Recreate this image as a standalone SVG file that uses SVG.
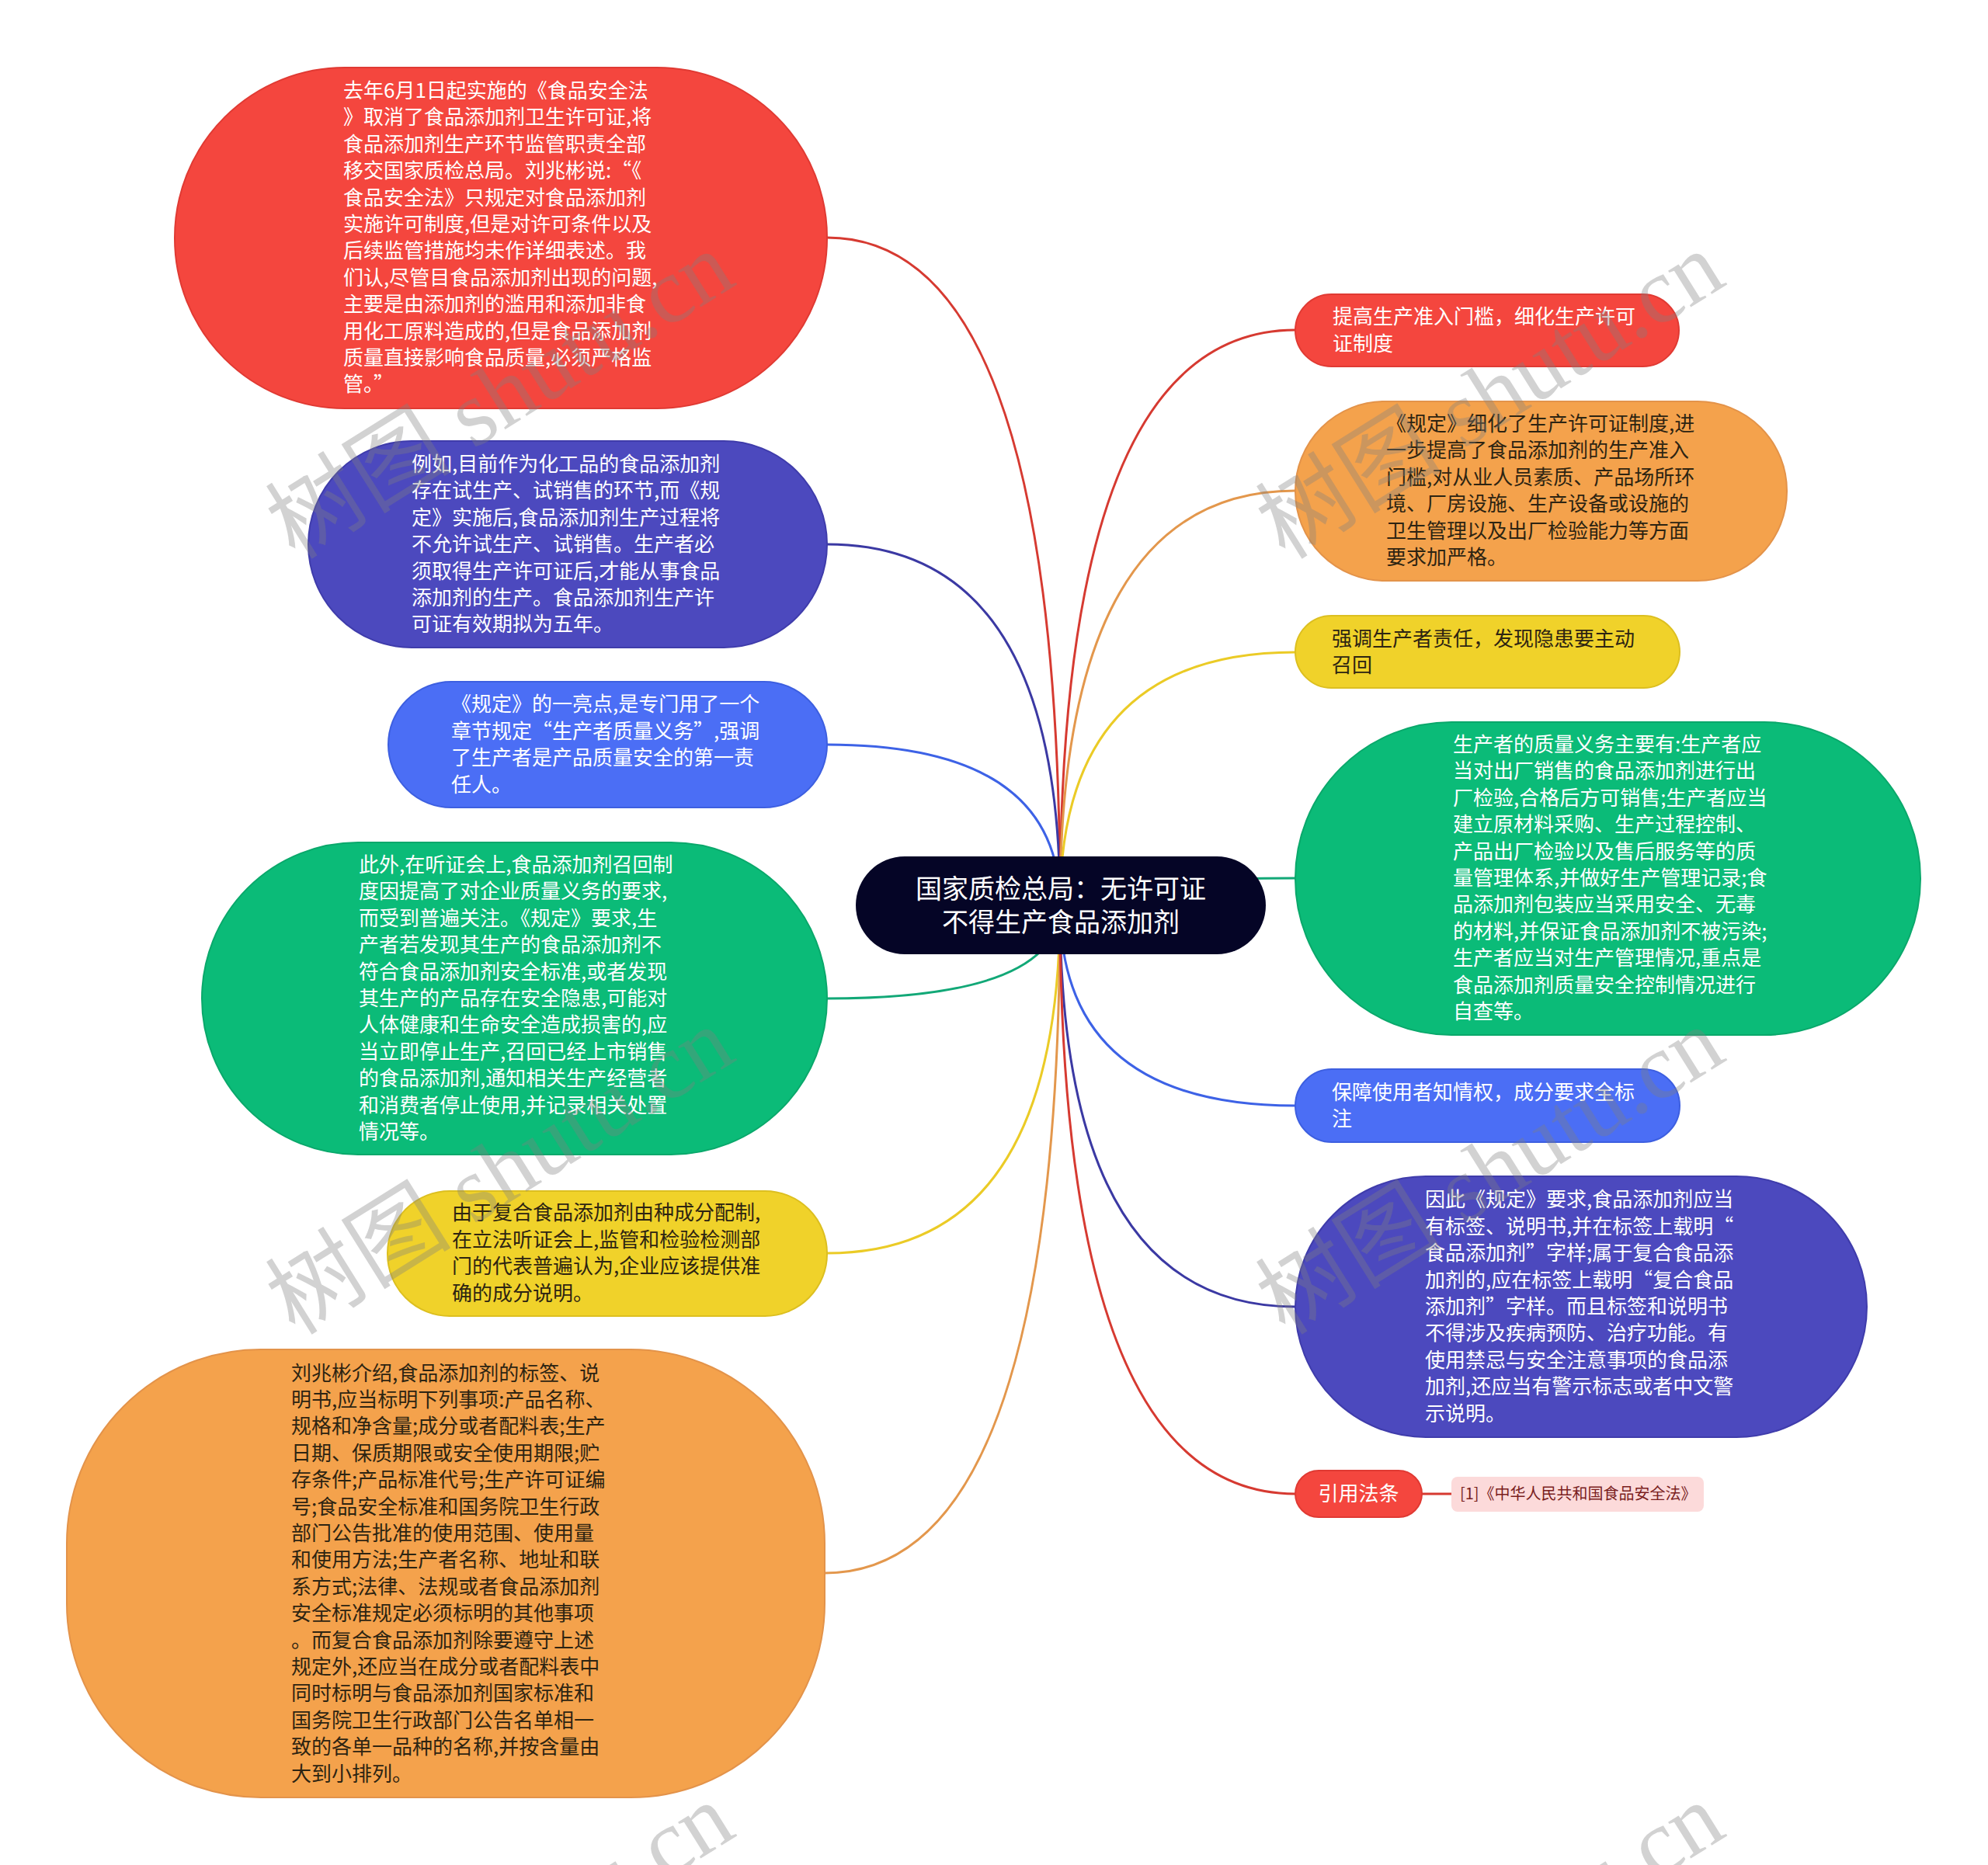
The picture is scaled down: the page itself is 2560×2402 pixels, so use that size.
<svg xmlns="http://www.w3.org/2000/svg" width="2560" height="2402" viewBox="0 0 2560 2402">
<style>
.t{font-family:"Noto Sans CJK SC","Noto Sans",sans-serif;font-size:26px}
.w{fill:#ffffff}
.d{fill:#2d2412}
.c{fill:none;stroke-width:3}
.wm{font-family:"Liberation Serif","Noto Sans CJK SC",serif;font-size:120px;fill:#808080;opacity:0.35}
</style>
<rect x="0" y="0" width="2560" height="2402" fill="#ffffff"/>
<g id="connectors">
<path class="c" stroke="#d63a31" d="M1365,1166 Q1365,306 1065,306"/>
<path class="c" stroke="#3b39a3" d="M1365,1166 Q1365,701 1065,701"/>
<path class="c" stroke="#3d62e6" d="M1365,1166 Q1365,959 1065,959"/>
<path class="c" stroke="#12a877" d="M1365,1166 Q1365,1286 1065,1286"/>
<path class="c" stroke="#ebcb26" d="M1365,1166 Q1365,1614 1065,1614"/>
<path class="c" stroke="#e3974c" d="M1365,1166 Q1365,2026 1062,2026"/>
<path class="c" stroke="#d63a31" d="M1365,1166 Q1365,425 1668,425"/>
<path class="c" stroke="#e3974c" d="M1365,1166 Q1365,632 1668,632"/>
<path class="c" stroke="#ebcb26" d="M1365,1166 Q1365,840 1668,840"/>
<path class="c" stroke="#12a877" d="M1365,1166 Q1365,1131 1668,1131"/>
<path class="c" stroke="#3d62e6" d="M1365,1166 Q1365,1424 1668,1424"/>
<path class="c" stroke="#3b39a3" d="M1365,1166 Q1365,1683 1668,1683"/>
<path class="c" stroke="#d63a31" d="M1365,1166 Q1365,1924 1668,1924"/>
<path class="c" stroke="#d63a31" d="M1831,1924 L1869,1924"/>
</g>
<g id="center">
<rect x="1102" y="1103" width="528" height="126" rx="63" fill="#050526"/>
<text class="t w" style="font-size:34px" text-anchor="middle"><tspan x="1366" y="1157">国家质检总局：无许可证</tspan><tspan x="1366" y="1200">不得生产食品添加剂</tspan></text>
</g>
<g id="L1">
<rect x="225" y="87" width="840" height="439" rx="219" fill="#f4463e" stroke="#e03a33" stroke-width="2"/>
<text class="t w"><tspan x="442" y="126">去年6月1日起实施的《食品安全法</tspan><tspan x="442" y="160.4">》取消了食品添加剂卫生许可证,将</tspan><tspan x="442" y="194.8">食品添加剂生产环节监管职责全部</tspan><tspan x="442" y="229.2">移交国家质检总局。刘兆彬说:“《</tspan><tspan x="442" y="263.6">食品安全法》只规定对食品添加剂</tspan><tspan x="442" y="298">实施许可制度,但是对许可条件以及</tspan><tspan x="442" y="332.4">后续监管措施均未作详细表述。我</tspan><tspan x="442" y="366.8">们认,尽管目食品添加剂出现的问题,</tspan><tspan x="442" y="401.2">主要是由添加剂的滥用和添加非食</tspan><tspan x="442" y="435.6">用化工原料造成的,但是食品添加剂</tspan><tspan x="442" y="470">质量直接影响食品质量,必须严格监</tspan><tspan x="442" y="504.4">管。”</tspan></text>
</g>
<g id="L2">
<rect x="397" y="568" width="668" height="266" rx="133" fill="#4c49be" stroke="#3f3cab" stroke-width="2"/>
<text class="t w"><tspan x="530" y="607">例如,目前作为化工品的食品添加剂</tspan><tspan x="530" y="641.4">存在试生产、试销售的环节,而《规</tspan><tspan x="530" y="675.8">定》实施后,食品添加剂生产过程将</tspan><tspan x="530" y="710.2">不允许试生产、试销售。生产者必</tspan><tspan x="530" y="744.6">须取得生产许可证后,才能从事食品</tspan><tspan x="530" y="779">添加剂的生产。食品添加剂生产许</tspan><tspan x="530" y="813.4">可证有效期拟为五年。</tspan></text>
</g>
<g id="L3">
<rect x="500" y="878" width="565" height="162" rx="81" fill="#4b6ef5" stroke="#3d5fe0" stroke-width="2"/>
<text class="t w"><tspan x="581" y="916.4">《规定》的一亮点,是专门用了一个</tspan><tspan x="581" y="950.8">章节规定“生产者质量义务”,强调</tspan><tspan x="581" y="985.2">了生产者是产品质量安全的第一责</tspan><tspan x="581" y="1019.6">任人。</tspan></text>
</g>
<g id="L4">
<rect x="260" y="1085" width="805" height="402" rx="201" fill="#0bbb78" stroke="#0aa86b" stroke-width="2"/>
<text class="t w"><tspan x="462" y="1123">此外,在听证会上,食品添加剂召回制</tspan><tspan x="462" y="1157.4">度因提高了对企业质量义务的要求,</tspan><tspan x="462" y="1191.8">而受到普遍关注。《规定》要求,生</tspan><tspan x="462" y="1226.2">产者若发现其生产的食品添加剂不</tspan><tspan x="462" y="1260.6">符合食品添加剂安全标准,或者发现</tspan><tspan x="462" y="1295">其生产的产品存在安全隐患,可能对</tspan><tspan x="462" y="1329.4">人体健康和生命安全造成损害的,应</tspan><tspan x="462" y="1363.8">当立即停止生产,召回已经上市销售</tspan><tspan x="462" y="1398.2">的食品添加剂,通知相关生产经营者</tspan><tspan x="462" y="1432.6">和消费者停止使用,并记录相关处置</tspan><tspan x="462" y="1467">情况等。</tspan></text>
</g>
<g id="L5">
<rect x="499" y="1534" width="566" height="161" rx="80" fill="#f0d22a" stroke="#dcbf20" stroke-width="2"/>
<text class="t d"><tspan x="582" y="1571.4">由于复合食品添加剂由种成分配制,</tspan><tspan x="582" y="1605.8">在立法听证会上,监管和检验检测部</tspan><tspan x="582" y="1640.2">门的代表普遍认为,企业应该提供准</tspan><tspan x="582" y="1674.6">确的成分说明。</tspan></text>
</g>
<g id="L6">
<rect x="86" y="1738" width="976" height="577" rx="250" fill="#f4a24c" stroke="#e3934a" stroke-width="2"/>
<text class="t d"><tspan x="375" y="1777.5">刘兆彬介绍,食品添加剂的标签、说</tspan><tspan x="375" y="1811.9">明书,应当标明下列事项:产品名称、</tspan><tspan x="375" y="1846.3">规格和净含量;成分或者配料表;生产</tspan><tspan x="375" y="1880.7">日期、保质期限或安全使用期限;贮</tspan><tspan x="375" y="1915.1">存条件;产品标准代号;生产许可证编</tspan><tspan x="375" y="1949.5">号;食品安全标准和国务院卫生行政</tspan><tspan x="375" y="1983.9">部门公告批准的使用范围、使用量</tspan><tspan x="375" y="2018.3">和使用方法;生产者名称、地址和联</tspan><tspan x="375" y="2052.7">系方式;法律、法规或者食品添加剂</tspan><tspan x="375" y="2087.1">安全标准规定必须标明的其他事项</tspan><tspan x="375" y="2121.5">。而复合食品添加剂除要遵守上述</tspan><tspan x="375" y="2155.9">规定外,还应当在成分或者配料表中</tspan><tspan x="375" y="2190.3">同时标明与食品添加剂国家标准和</tspan><tspan x="375" y="2224.7">国务院卫生行政部门公告名单相一</tspan><tspan x="375" y="2259.1">致的各单一品种的名称,并按含量由</tspan><tspan x="375" y="2293.5">大到小排列。</tspan></text>
</g>
<g id="R1">
<rect x="1668" y="379" width="494" height="93" rx="46.5" fill="#f4463e" stroke="#e03a33" stroke-width="2"/>
<text class="t w"><tspan x="1716" y="417.3">提高生产准入门槛，细化生产许可</tspan><tspan x="1716" y="451.7">证制度</tspan></text>
</g>
<g id="R2">
<rect x="1668" y="517" width="633" height="231" rx="115" fill="#f4a24c" stroke="#e3934a" stroke-width="2"/>
<text class="t d"><tspan x="1785" y="555">《规定》细化了生产许可证制度,进</tspan><tspan x="1785" y="589.4">一步提高了食品添加剂的生产准入</tspan><tspan x="1785" y="623.8">门槛,对从业人员素质、产品场所环</tspan><tspan x="1785" y="658.2">境、厂房设施、生产设备或设施的</tspan><tspan x="1785" y="692.6">卫生管理以及出厂检验能力等方面</tspan><tspan x="1785" y="727">要求加严格。</tspan></text>
</g>
<g id="R3">
<rect x="1668" y="793" width="495" height="93" rx="46.5" fill="#f0d22a" stroke="#dcbf20" stroke-width="2"/>
<text class="t d"><tspan x="1715" y="831.8">强调生产者责任，发现隐患要主动</tspan><tspan x="1715" y="866.2">召回</tspan></text>
</g>
<g id="R4">
<rect x="1668" y="930" width="805" height="403" rx="201" fill="#0bbb78" stroke="#0aa86b" stroke-width="2"/>
<text class="t w"><tspan x="1871" y="968">生产者的质量义务主要有:生产者应</tspan><tspan x="1871" y="1002.4">当对出厂销售的食品添加剂进行出</tspan><tspan x="1871" y="1036.8">厂检验,合格后方可销售;生产者应当</tspan><tspan x="1871" y="1071.2">建立原材料采购、生产过程控制、</tspan><tspan x="1871" y="1105.6">产品出厂检验以及售后服务等的质</tspan><tspan x="1871" y="1140">量管理体系,并做好生产管理记录;食</tspan><tspan x="1871" y="1174.4">品添加剂包装应当采用安全、无毒</tspan><tspan x="1871" y="1208.8">的材料,并保证食品添加剂不被污染;</tspan><tspan x="1871" y="1243.2">生产者应当对生产管理情况,重点是</tspan><tspan x="1871" y="1277.6">食品添加剂质量安全控制情况进行</tspan><tspan x="1871" y="1312">自查等。</tspan></text>
</g>
<g id="R5">
<rect x="1668" y="1377" width="495" height="94" rx="47" fill="#4b6ef5" stroke="#3d5fe0" stroke-width="2"/>
<text class="t w"><tspan x="1715" y="1415.8">保障使用者知情权，成分要求全标</tspan><tspan x="1715" y="1450.2">注</tspan></text>
</g>
<g id="R6">
<rect x="1668" y="1515" width="736" height="336" rx="168" fill="#4c49be" stroke="#3f3cab" stroke-width="2"/>
<text class="t w"><tspan x="1835" y="1554.4">因此《规定》要求,食品添加剂应当</tspan><tspan x="1835" y="1588.8">有标签、说明书,并在标签上载明“</tspan><tspan x="1835" y="1623.2">食品添加剂”字样;属于复合食品添</tspan><tspan x="1835" y="1657.6">加剂的,应在标签上载明“复合食品</tspan><tspan x="1835" y="1692">添加剂”字样。而且标签和说明书</tspan><tspan x="1835" y="1726.4">不得涉及疾病预防、治疗功能。有</tspan><tspan x="1835" y="1760.8">使用禁忌与安全注意事项的食品添</tspan><tspan x="1835" y="1795.2">加剂,还应当有警示标志或者中文警</tspan><tspan x="1835" y="1829.6">示说明。</tspan></text>
</g>
<g id="R7">
<rect x="1668" y="1894" width="163" height="60" rx="30" fill="#f4463e" stroke="#e03a33" stroke-width="2"/>
<text class="t w" text-anchor="middle" x="1749.5" y="1933">引用法条</text>
</g>
<g id="R7-label">
<rect x="1869" y="1902" width="325" height="45" rx="8" fill="#fcdada"/>
<text class="t" style="font-size:20px;fill:#7a1e1e" x="1880" y="1931">[1]《中华人民共和国食品安全法》</text>
</g>
<g id="watermark">
<text class="wm" transform="translate(380,722) rotate(-32)">树图 shutu.cn</text>
<text class="wm" transform="translate(1655,722) rotate(-32)">树图 shutu.cn</text>
<text class="wm" transform="translate(380,1721) rotate(-32)">树图 shutu.cn</text>
<text class="wm" transform="translate(1655,1721) rotate(-32)">树图 shutu.cn</text>
<text class="wm" transform="translate(380,2720) rotate(-32)">树图 shutu.cn</text>
<text class="wm" transform="translate(1655,2720) rotate(-32)">树图 shutu.cn</text>
</g>
</svg>
